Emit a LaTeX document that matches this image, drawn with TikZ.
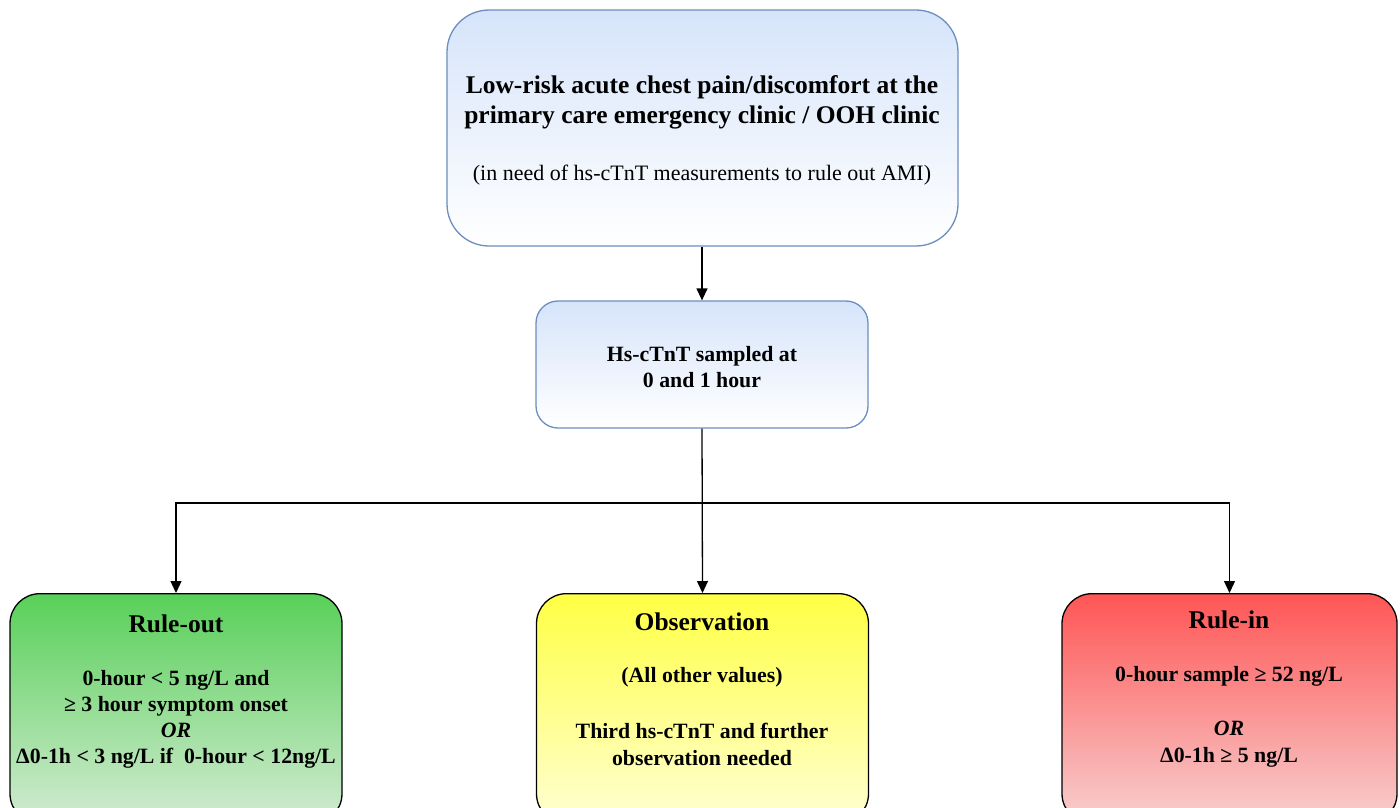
\documentclass[tikz,border=0pt]{standalone}
\usepackage{fontspec}
\setmainfont{Liberation Serif}
\usetikzlibrary{arrows.meta}
\definecolor{bluebd}{HTML}{6C8EBF}
\definecolor{bluetop}{HTML}{D6E4FA}
\definecolor{greentop}{HTML}{58D058}
\definecolor{greenbot}{HTML}{D3EBD3}
\definecolor{yellowtop}{HTML}{FFFF44}
\definecolor{yellowbot}{HTML}{FFFFD4}
\definecolor{redtop}{HTML}{FF5555}
\definecolor{redbot}{HTML}{F7D0D0}
\tikzset{
  bluebox/.style={draw=bluebd, line width=1.3pt, top color=bluetop, bottom color=white, rectangle, inner sep=0pt},
  resbox/.style={draw=black, line width=1.3pt, rectangle, rounded corners=30pt, inner sep=0pt, minimum width=332pt, minimum height=230pt, anchor=north},
  conn/.style={line width=1.3pt, -{Triangle[length=12pt,width=11pt]}},
  txt/.style={align=center, inner sep=0pt, font=\fontsize{21.8}{27}\selectfont\bfseries},
  head/.style={inner sep=0pt, font=\fontsize{25.5}{27}\selectfont\bfseries},
}
\begin{document}
\begin{tikzpicture}[x=1pt,y=-1pt]
\useasboundingbox (0,0) rectangle (1400,807);
\clip (0,0) rectangle (1400,807);
\fill[white] (0,0) rectangle (1400,807);
% boxes
\node[bluebox, rounded corners=42pt, minimum width=511pt, minimum height=236pt] (top) at (702.5,128) {};
\node[bluebox, rounded corners=22pt, minimum width=332pt, minimum height=127pt] (mid) at (702,364.5) {};
\node[resbox, top color=greentop, bottom color=greenbot] (out) at (176,593) {};
\node[resbox, top color=yellowtop, bottom color=yellowbot] (obs) at (702.5,593) {};
\node[resbox, minimum width=335pt, top color=redtop, bottom color=redbot] (in) at (1229.5,593) {};
% texts
\node[align=center, inner sep=0pt, font=\fontsize{25.5}{30}\selectfont\bfseries] (toptxt) at (702,102) {Low-risk acute chest pain/discomfort at the\\primary care emergency clinic / OOH clinic};
\node[inner sep=0pt, font=\fontsize{22}{24}\selectfont] (topsub) at (702,175) {(in need of hs-cTnT measurements to rule out AMI)};
\node[txt, font=\fontsize{21.8}{26}\selectfont\bfseries] (midtxt) at (702,367) {Hs-cTnT sampled at\\0 and 1 hour};
\node[head] (outh) at (176,624) {Rule-out};
\node[txt, font=\fontsize{21.8}{26}\selectfont\bfseries] (outt) at (176,719.5) {0-hour < 5 ng/L and\\≥ 3 hour symptom onset\\\textit{OR}\\Δ0-1h < 3 ng/L if\ \ 0-hour < 12ng/L};
\node[head] (obsh) at (702,622) {Observation};
\node[txt] (obst1) at (702,677) {(All other values)};
\node[txt] (obst2) at (702,744.5) {Third hs-cTnT and further\\observation needed};
\node[head] (inh) at (1229,620) {Rule-in};
\node[txt] (int1) at (1229,676) {0-hour sample ≥ 52 ng/L};
\node[txt] (int2) at (1229,744) {\textit{OR}\\Δ0-1h ≥ 5 ng/L};
% connectors
\coordinate (split) at (702,503);
\draw[conn] (top.south -| mid.north) -- (mid.north);
\draw[conn] (mid.south) -- (obs.north);
\draw[conn] (split) -| (out.north);
\draw[conn] (split) -| (in.north);
\end{tikzpicture}
\end{document}
